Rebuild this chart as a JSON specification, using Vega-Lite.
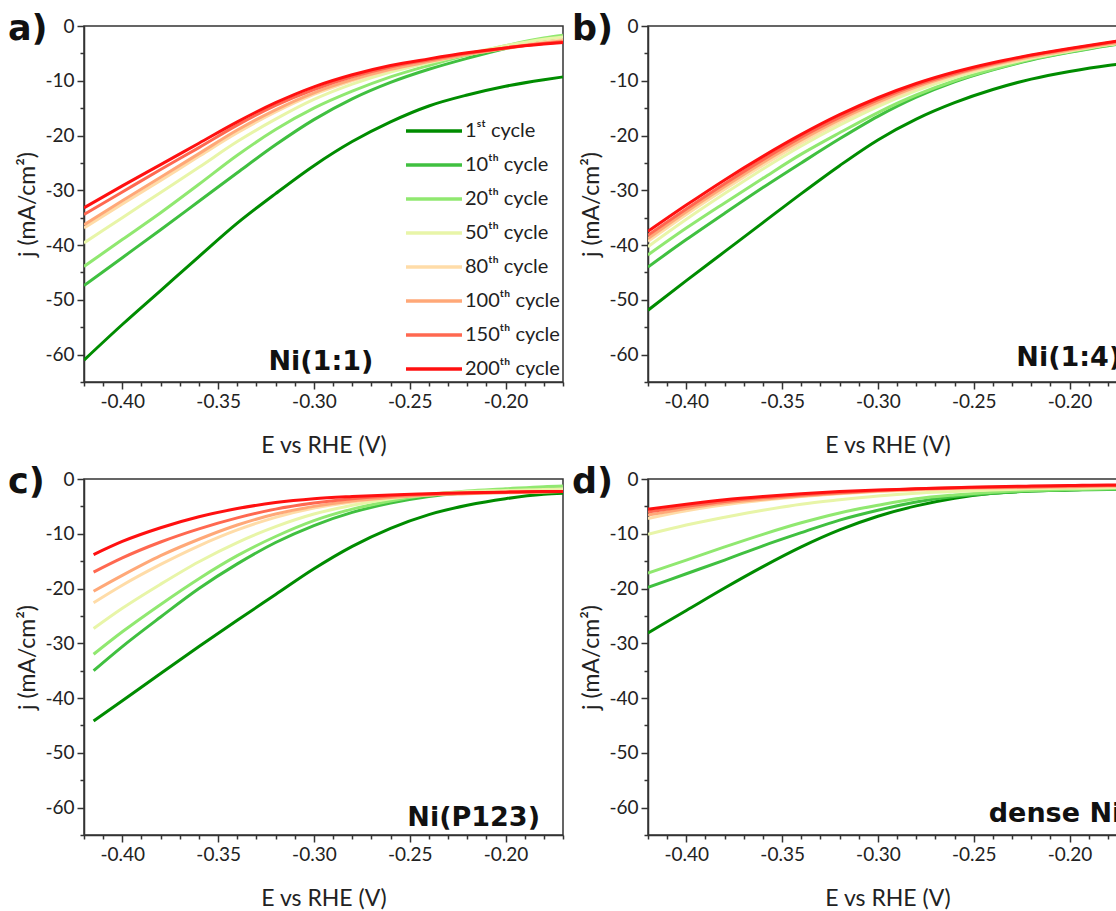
{
"$schema": "https://vega.github.io/schema/vega-lite/v6.json",
"background": "white",
"padding": {"left": 7, "top": 10, "right": 0, "bottom": 0},
"datasets": {"curves": [
{"p":"a","c":1,"E":-0.42,"j":-61.0},{"p":"a","c":1,"E":-0.4,"j":-54.5},{"p":"a","c":1,"E":-0.38,"j":-48.3},{"p":"a","c":1,"E":-0.36,"j":-42.1},{"p":"a","c":1,"E":-0.34,"j":-36.0},{"p":"a","c":1,"E":-0.32,"j":-30.6},{"p":"a","c":1,"E":-0.3,"j":-25.5},{"p":"a","c":1,"E":-0.28,"j":-21.1},{"p":"a","c":1,"E":-0.26,"j":-17.5},{"p":"a","c":1,"E":-0.24,"j":-14.6},{"p":"a","c":1,"E":-0.22,"j":-12.6},{"p":"a","c":1,"E":-0.2,"j":-11.0},{"p":"a","c":1,"E":-0.18,"j":-9.8},{"p":"a","c":1,"E":-0.17,"j":-9.3},
{"p":"a","c":10,"E":-0.42,"j":-47.4},{"p":"a","c":10,"E":-0.4,"j":-42.3},{"p":"a","c":10,"E":-0.38,"j":-37.2},{"p":"a","c":10,"E":-0.36,"j":-32.0},{"p":"a","c":10,"E":-0.34,"j":-26.8},{"p":"a","c":10,"E":-0.32,"j":-21.7},{"p":"a","c":10,"E":-0.3,"j":-17.1},{"p":"a","c":10,"E":-0.28,"j":-13.3},{"p":"a","c":10,"E":-0.26,"j":-10.3},{"p":"a","c":10,"E":-0.24,"j":-7.9},{"p":"a","c":10,"E":-0.22,"j":-5.9},{"p":"a","c":10,"E":-0.2,"j":-4.1},{"p":"a","c":10,"E":-0.18,"j":-2.6},{"p":"a","c":10,"E":-0.17,"j":-1.9},
{"p":"a","c":20,"E":-0.42,"j":-43.9},{"p":"a","c":20,"E":-0.4,"j":-39.0},{"p":"a","c":20,"E":-0.38,"j":-34.1},{"p":"a","c":20,"E":-0.36,"j":-28.9},{"p":"a","c":20,"E":-0.34,"j":-23.6},{"p":"a","c":20,"E":-0.32,"j":-18.9},{"p":"a","c":20,"E":-0.3,"j":-15.0},{"p":"a","c":20,"E":-0.28,"j":-11.9},{"p":"a","c":20,"E":-0.26,"j":-9.3},{"p":"a","c":20,"E":-0.24,"j":-7.2},{"p":"a","c":20,"E":-0.22,"j":-5.3},{"p":"a","c":20,"E":-0.2,"j":-3.6},{"p":"a","c":20,"E":-0.18,"j":-2.2},{"p":"a","c":20,"E":-0.17,"j":-1.7},
{"p":"a","c":50,"E":-0.42,"j":-39.6},{"p":"a","c":50,"E":-0.4,"j":-35.0},{"p":"a","c":50,"E":-0.38,"j":-30.4},{"p":"a","c":50,"E":-0.36,"j":-25.8},{"p":"a","c":50,"E":-0.34,"j":-21.1},{"p":"a","c":50,"E":-0.32,"j":-17.0},{"p":"a","c":50,"E":-0.3,"j":-13.4},{"p":"a","c":50,"E":-0.28,"j":-10.6},{"p":"a","c":50,"E":-0.26,"j":-8.4},{"p":"a","c":50,"E":-0.24,"j":-6.7},{"p":"a","c":50,"E":-0.22,"j":-5.1},{"p":"a","c":50,"E":-0.2,"j":-3.6},{"p":"a","c":50,"E":-0.18,"j":-2.4},{"p":"a","c":50,"E":-0.17,"j":-2.0},
{"p":"a","c":80,"E":-0.42,"j":-36.9},{"p":"a","c":80,"E":-0.4,"j":-32.5},{"p":"a","c":80,"E":-0.38,"j":-28.2},{"p":"a","c":80,"E":-0.36,"j":-23.8},{"p":"a","c":80,"E":-0.34,"j":-19.5},{"p":"a","c":80,"E":-0.32,"j":-15.7},{"p":"a","c":80,"E":-0.3,"j":-12.5},{"p":"a","c":80,"E":-0.28,"j":-10.0},{"p":"a","c":80,"E":-0.26,"j":-8.0},{"p":"a","c":80,"E":-0.24,"j":-6.5},{"p":"a","c":80,"E":-0.22,"j":-5.2},{"p":"a","c":80,"E":-0.2,"j":-4.0},{"p":"a","c":80,"E":-0.18,"j":-2.9},{"p":"a","c":80,"E":-0.17,"j":-2.5},
{"p":"a","c":100,"E":-0.42,"j":-36.3},{"p":"a","c":100,"E":-0.4,"j":-31.9},{"p":"a","c":100,"E":-0.38,"j":-27.6},{"p":"a","c":100,"E":-0.36,"j":-23.3},{"p":"a","c":100,"E":-0.34,"j":-19.0},{"p":"a","c":100,"E":-0.32,"j":-15.3},{"p":"a","c":100,"E":-0.3,"j":-12.2},{"p":"a","c":100,"E":-0.28,"j":-9.8},{"p":"a","c":100,"E":-0.26,"j":-7.9},{"p":"a","c":100,"E":-0.24,"j":-6.5},{"p":"a","c":100,"E":-0.22,"j":-5.2},{"p":"a","c":100,"E":-0.2,"j":-4.1},{"p":"a","c":100,"E":-0.18,"j":-3.1},{"p":"a","c":100,"E":-0.17,"j":-2.7},
{"p":"a","c":150,"E":-0.42,"j":-34.4},{"p":"a","c":150,"E":-0.4,"j":-30.3},{"p":"a","c":150,"E":-0.38,"j":-26.2},{"p":"a","c":150,"E":-0.36,"j":-22.2},{"p":"a","c":150,"E":-0.34,"j":-18.1},{"p":"a","c":150,"E":-0.32,"j":-14.5},{"p":"a","c":150,"E":-0.3,"j":-11.6},{"p":"a","c":150,"E":-0.28,"j":-9.3},{"p":"a","c":150,"E":-0.26,"j":-7.5},{"p":"a","c":150,"E":-0.24,"j":-6.2},{"p":"a","c":150,"E":-0.22,"j":-5.0},{"p":"a","c":150,"E":-0.2,"j":-4.0},{"p":"a","c":150,"E":-0.18,"j":-3.2},{"p":"a","c":150,"E":-0.17,"j":-2.9},
{"p":"a","c":200,"E":-0.42,"j":-33.2},{"p":"a","c":200,"E":-0.4,"j":-29.2},{"p":"a","c":200,"E":-0.38,"j":-25.3},{"p":"a","c":200,"E":-0.36,"j":-21.4},{"p":"a","c":200,"E":-0.34,"j":-17.5},{"p":"a","c":200,"E":-0.32,"j":-14.0},{"p":"a","c":200,"E":-0.3,"j":-11.1},{"p":"a","c":200,"E":-0.28,"j":-8.9},{"p":"a","c":200,"E":-0.26,"j":-7.2},{"p":"a","c":200,"E":-0.24,"j":-6.0},{"p":"a","c":200,"E":-0.22,"j":-4.9},{"p":"a","c":200,"E":-0.2,"j":-4.0},{"p":"a","c":200,"E":-0.18,"j":-3.3},{"p":"a","c":200,"E":-0.17,"j":-3.0},
{"p":"b","c":1,"E":-0.42,"j":-51.9},{"p":"b","c":1,"E":-0.4,"j":-46.5},{"p":"b","c":1,"E":-0.38,"j":-41.2},{"p":"b","c":1,"E":-0.36,"j":-35.9},{"p":"b","c":1,"E":-0.34,"j":-30.6},{"p":"b","c":1,"E":-0.32,"j":-25.5},{"p":"b","c":1,"E":-0.3,"j":-20.8},{"p":"b","c":1,"E":-0.28,"j":-17.0},{"p":"b","c":1,"E":-0.26,"j":-14.0},{"p":"b","c":1,"E":-0.24,"j":-11.6},{"p":"b","c":1,"E":-0.22,"j":-9.7},{"p":"b","c":1,"E":-0.2,"j":-8.3},{"p":"b","c":1,"E":-0.18,"j":-7.2},{"p":"b","c":1,"E":-0.17,"j":-6.8},
{"p":"b","c":10,"E":-0.42,"j":-44.0},{"p":"b","c":10,"E":-0.4,"j":-39.0},{"p":"b","c":10,"E":-0.38,"j":-34.2},{"p":"b","c":10,"E":-0.36,"j":-29.5},{"p":"b","c":10,"E":-0.34,"j":-25.0},{"p":"b","c":10,"E":-0.32,"j":-20.6},{"p":"b","c":10,"E":-0.3,"j":-16.5},{"p":"b","c":10,"E":-0.28,"j":-13.0},{"p":"b","c":10,"E":-0.26,"j":-10.2},{"p":"b","c":10,"E":-0.24,"j":-8.0},{"p":"b","c":10,"E":-0.22,"j":-6.2},{"p":"b","c":10,"E":-0.2,"j":-4.8},{"p":"b","c":10,"E":-0.18,"j":-3.6},{"p":"b","c":10,"E":-0.17,"j":-3.1},
{"p":"b","c":20,"E":-0.42,"j":-41.8},{"p":"b","c":20,"E":-0.4,"j":-36.9},{"p":"b","c":20,"E":-0.38,"j":-32.3},{"p":"b","c":20,"E":-0.36,"j":-27.8},{"p":"b","c":20,"E":-0.34,"j":-23.4},{"p":"b","c":20,"E":-0.32,"j":-19.5},{"p":"b","c":20,"E":-0.3,"j":-15.8},{"p":"b","c":20,"E":-0.28,"j":-12.6},{"p":"b","c":20,"E":-0.26,"j":-10.0},{"p":"b","c":20,"E":-0.24,"j":-7.9},{"p":"b","c":20,"E":-0.22,"j":-6.1},{"p":"b","c":20,"E":-0.2,"j":-4.7},{"p":"b","c":20,"E":-0.18,"j":-3.5},{"p":"b","c":20,"E":-0.17,"j":-3.0},
{"p":"b","c":50,"E":-0.42,"j":-40.3},{"p":"b","c":50,"E":-0.4,"j":-35.3},{"p":"b","c":50,"E":-0.38,"j":-30.6},{"p":"b","c":50,"E":-0.36,"j":-26.1},{"p":"b","c":50,"E":-0.34,"j":-21.9},{"p":"b","c":50,"E":-0.32,"j":-18.1},{"p":"b","c":50,"E":-0.3,"j":-14.7},{"p":"b","c":50,"E":-0.28,"j":-11.8},{"p":"b","c":50,"E":-0.26,"j":-9.4},{"p":"b","c":50,"E":-0.24,"j":-7.5},{"p":"b","c":50,"E":-0.22,"j":-5.9},{"p":"b","c":50,"E":-0.2,"j":-4.6},{"p":"b","c":50,"E":-0.18,"j":-3.4},{"p":"b","c":50,"E":-0.17,"j":-3.0},
{"p":"b","c":80,"E":-0.42,"j":-39.3},{"p":"b","c":80,"E":-0.4,"j":-34.4},{"p":"b","c":80,"E":-0.38,"j":-29.8},{"p":"b","c":80,"E":-0.36,"j":-25.4},{"p":"b","c":80,"E":-0.34,"j":-21.3},{"p":"b","c":80,"E":-0.32,"j":-17.5},{"p":"b","c":80,"E":-0.3,"j":-14.2},{"p":"b","c":80,"E":-0.28,"j":-11.4},{"p":"b","c":80,"E":-0.26,"j":-9.1},{"p":"b","c":80,"E":-0.24,"j":-7.3},{"p":"b","c":80,"E":-0.22,"j":-5.8},{"p":"b","c":80,"E":-0.2,"j":-4.5},{"p":"b","c":80,"E":-0.18,"j":-3.4},{"p":"b","c":80,"E":-0.17,"j":-2.9},
{"p":"b","c":100,"E":-0.42,"j":-38.8},{"p":"b","c":100,"E":-0.4,"j":-33.9},{"p":"b","c":100,"E":-0.38,"j":-29.3},{"p":"b","c":100,"E":-0.36,"j":-24.9},{"p":"b","c":100,"E":-0.34,"j":-20.8},{"p":"b","c":100,"E":-0.32,"j":-17.1},{"p":"b","c":100,"E":-0.3,"j":-13.9},{"p":"b","c":100,"E":-0.28,"j":-11.1},{"p":"b","c":100,"E":-0.26,"j":-8.9},{"p":"b","c":100,"E":-0.24,"j":-7.1},{"p":"b","c":100,"E":-0.22,"j":-5.6},{"p":"b","c":100,"E":-0.2,"j":-4.4},{"p":"b","c":100,"E":-0.18,"j":-3.3},{"p":"b","c":100,"E":-0.17,"j":-2.8},
{"p":"b","c":150,"E":-0.42,"j":-38.2},{"p":"b","c":150,"E":-0.4,"j":-33.4},{"p":"b","c":150,"E":-0.38,"j":-28.8},{"p":"b","c":150,"E":-0.36,"j":-24.4},{"p":"b","c":150,"E":-0.34,"j":-20.3},{"p":"b","c":150,"E":-0.32,"j":-16.7},{"p":"b","c":150,"E":-0.3,"j":-13.5},{"p":"b","c":150,"E":-0.28,"j":-10.8},{"p":"b","c":150,"E":-0.26,"j":-8.7},{"p":"b","c":150,"E":-0.24,"j":-6.9},{"p":"b","c":150,"E":-0.22,"j":-5.4},{"p":"b","c":150,"E":-0.2,"j":-4.2},{"p":"b","c":150,"E":-0.18,"j":-3.1},{"p":"b","c":150,"E":-0.17,"j":-2.6},
{"p":"b","c":200,"E":-0.42,"j":-37.5},{"p":"b","c":200,"E":-0.4,"j":-32.7},{"p":"b","c":200,"E":-0.38,"j":-28.1},{"p":"b","c":200,"E":-0.36,"j":-23.8},{"p":"b","c":200,"E":-0.34,"j":-19.8},{"p":"b","c":200,"E":-0.32,"j":-16.2},{"p":"b","c":200,"E":-0.3,"j":-13.1},{"p":"b","c":200,"E":-0.28,"j":-10.5},{"p":"b","c":200,"E":-0.26,"j":-8.4},{"p":"b","c":200,"E":-0.24,"j":-6.7},{"p":"b","c":200,"E":-0.22,"j":-5.3},{"p":"b","c":200,"E":-0.2,"j":-4.1},{"p":"b","c":200,"E":-0.18,"j":-3.0},{"p":"b","c":200,"E":-0.17,"j":-2.5},
{"p":"c","c":1,"E":-0.415,"j":-44.2},{"p":"c","c":1,"E":-0.4,"j":-40.5},{"p":"c","c":1,"E":-0.38,"j":-35.5},{"p":"c","c":1,"E":-0.36,"j":-30.6},{"p":"c","c":1,"E":-0.34,"j":-25.8},{"p":"c","c":1,"E":-0.32,"j":-21.1},{"p":"c","c":1,"E":-0.3,"j":-16.4},{"p":"c","c":1,"E":-0.28,"j":-12.3},{"p":"c","c":1,"E":-0.26,"j":-9.0},{"p":"c","c":1,"E":-0.24,"j":-6.5},{"p":"c","c":1,"E":-0.22,"j":-4.8},{"p":"c","c":1,"E":-0.2,"j":-3.6},{"p":"c","c":1,"E":-0.18,"j":-2.8},{"p":"c","c":1,"E":-0.17,"j":-2.6},
{"p":"c","c":10,"E":-0.415,"j":-35.0},{"p":"c","c":10,"E":-0.4,"j":-30.6},{"p":"c","c":10,"E":-0.38,"j":-25.2},{"p":"c","c":10,"E":-0.36,"j":-20.0},{"p":"c","c":10,"E":-0.34,"j":-15.5},{"p":"c","c":10,"E":-0.32,"j":-11.6},{"p":"c","c":10,"E":-0.3,"j":-8.5},{"p":"c","c":10,"E":-0.28,"j":-6.1},{"p":"c","c":10,"E":-0.26,"j":-4.4},{"p":"c","c":10,"E":-0.24,"j":-3.2},{"p":"c","c":10,"E":-0.22,"j":-2.5},{"p":"c","c":10,"E":-0.2,"j":-2.0},{"p":"c","c":10,"E":-0.18,"j":-1.7},{"p":"c","c":10,"E":-0.17,"j":-1.6},
{"p":"c","c":20,"E":-0.415,"j":-32.0},{"p":"c","c":20,"E":-0.4,"j":-27.9},{"p":"c","c":20,"E":-0.38,"j":-22.9},{"p":"c","c":20,"E":-0.36,"j":-18.2},{"p":"c","c":20,"E":-0.34,"j":-14.0},{"p":"c","c":20,"E":-0.32,"j":-10.5},{"p":"c","c":20,"E":-0.3,"j":-7.6},{"p":"c","c":20,"E":-0.28,"j":-5.5},{"p":"c","c":20,"E":-0.26,"j":-4.0},{"p":"c","c":20,"E":-0.24,"j":-2.9},{"p":"c","c":20,"E":-0.22,"j":-2.2},{"p":"c","c":20,"E":-0.2,"j":-1.8},{"p":"c","c":20,"E":-0.18,"j":-1.4},{"p":"c","c":20,"E":-0.17,"j":-1.3},
{"p":"c","c":50,"E":-0.415,"j":-27.3},{"p":"c","c":50,"E":-0.4,"j":-23.6},{"p":"c","c":50,"E":-0.38,"j":-19.2},{"p":"c","c":50,"E":-0.36,"j":-15.1},{"p":"c","c":50,"E":-0.34,"j":-11.6},{"p":"c","c":50,"E":-0.32,"j":-8.7},{"p":"c","c":50,"E":-0.3,"j":-6.4},{"p":"c","c":50,"E":-0.28,"j":-4.8},{"p":"c","c":50,"E":-0.26,"j":-3.6},{"p":"c","c":50,"E":-0.24,"j":-2.8},{"p":"c","c":50,"E":-0.22,"j":-2.3},{"p":"c","c":50,"E":-0.2,"j":-2.1},{"p":"c","c":50,"E":-0.18,"j":-1.9},{"p":"c","c":50,"E":-0.17,"j":-1.8},
{"p":"c","c":80,"E":-0.415,"j":-22.6},{"p":"c","c":80,"E":-0.4,"j":-19.4},{"p":"c","c":80,"E":-0.38,"j":-15.6},{"p":"c","c":80,"E":-0.36,"j":-12.2},{"p":"c","c":80,"E":-0.34,"j":-9.3},{"p":"c","c":80,"E":-0.32,"j":-7.0},{"p":"c","c":80,"E":-0.3,"j":-5.3},{"p":"c","c":80,"E":-0.28,"j":-4.2},{"p":"c","c":80,"E":-0.26,"j":-3.4},{"p":"c","c":80,"E":-0.24,"j":-2.9},{"p":"c","c":80,"E":-0.22,"j":-2.6},{"p":"c","c":80,"E":-0.2,"j":-2.4},{"p":"c","c":80,"E":-0.18,"j":-2.3},{"p":"c","c":80,"E":-0.17,"j":-2.2},
{"p":"c","c":100,"E":-0.415,"j":-20.5},{"p":"c","c":100,"E":-0.4,"j":-17.6},{"p":"c","c":100,"E":-0.38,"j":-14.0},{"p":"c","c":100,"E":-0.36,"j":-11.0},{"p":"c","c":100,"E":-0.34,"j":-8.4},{"p":"c","c":100,"E":-0.32,"j":-6.4},{"p":"c","c":100,"E":-0.3,"j":-5.0},{"p":"c","c":100,"E":-0.28,"j":-4.0},{"p":"c","c":100,"E":-0.26,"j":-3.4},{"p":"c","c":100,"E":-0.24,"j":-2.9},{"p":"c","c":100,"E":-0.22,"j":-2.7},{"p":"c","c":100,"E":-0.2,"j":-2.5},{"p":"c","c":100,"E":-0.18,"j":-2.4},{"p":"c","c":100,"E":-0.17,"j":-2.3},
{"p":"c","c":150,"E":-0.415,"j":-17.0},{"p":"c","c":150,"E":-0.4,"j":-14.4},{"p":"c","c":150,"E":-0.38,"j":-11.5},{"p":"c","c":150,"E":-0.36,"j":-9.1},{"p":"c","c":150,"E":-0.34,"j":-7.1},{"p":"c","c":150,"E":-0.32,"j":-5.5},{"p":"c","c":150,"E":-0.3,"j":-4.4},{"p":"c","c":150,"E":-0.28,"j":-3.6},{"p":"c","c":150,"E":-0.26,"j":-3.1},{"p":"c","c":150,"E":-0.24,"j":-2.8},{"p":"c","c":150,"E":-0.22,"j":-2.6},{"p":"c","c":150,"E":-0.2,"j":-2.4},{"p":"c","c":150,"E":-0.18,"j":-2.3},{"p":"c","c":150,"E":-0.17,"j":-2.3},
{"p":"c","c":200,"E":-0.415,"j":-13.8},{"p":"c","c":200,"E":-0.4,"j":-11.4},{"p":"c","c":200,"E":-0.38,"j":-8.9},{"p":"c","c":200,"E":-0.36,"j":-6.9},{"p":"c","c":200,"E":-0.34,"j":-5.4},{"p":"c","c":200,"E":-0.32,"j":-4.3},{"p":"c","c":200,"E":-0.3,"j":-3.6},{"p":"c","c":200,"E":-0.28,"j":-3.2},{"p":"c","c":200,"E":-0.26,"j":-2.9},{"p":"c","c":200,"E":-0.24,"j":-2.7},{"p":"c","c":200,"E":-0.22,"j":-2.5},{"p":"c","c":200,"E":-0.2,"j":-2.4},{"p":"c","c":200,"E":-0.18,"j":-2.3},{"p":"c","c":200,"E":-0.17,"j":-2.3},
{"p":"d","c":1,"E":-0.42,"j":-28.1},{"p":"d","c":1,"E":-0.4,"j":-24.0},{"p":"d","c":1,"E":-0.38,"j":-19.9},{"p":"d","c":1,"E":-0.36,"j":-16.0},{"p":"d","c":1,"E":-0.34,"j":-12.4},{"p":"d","c":1,"E":-0.32,"j":-9.3},{"p":"d","c":1,"E":-0.3,"j":-6.8},{"p":"d","c":1,"E":-0.28,"j":-4.9},{"p":"d","c":1,"E":-0.26,"j":-3.5},{"p":"d","c":1,"E":-0.24,"j":-2.6},{"p":"d","c":1,"E":-0.22,"j":-2.2},{"p":"d","c":1,"E":-0.2,"j":-2.0},{"p":"d","c":1,"E":-0.18,"j":-1.8},{"p":"d","c":1,"E":-0.17,"j":-1.8},
{"p":"d","c":10,"E":-0.42,"j":-19.8},{"p":"d","c":10,"E":-0.4,"j":-17.3},{"p":"d","c":10,"E":-0.38,"j":-14.8},{"p":"d","c":10,"E":-0.36,"j":-12.2},{"p":"d","c":10,"E":-0.34,"j":-9.8},{"p":"d","c":10,"E":-0.32,"j":-7.5},{"p":"d","c":10,"E":-0.3,"j":-5.7},{"p":"d","c":10,"E":-0.28,"j":-4.2},{"p":"d","c":10,"E":-0.26,"j":-3.2},{"p":"d","c":10,"E":-0.24,"j":-2.6},{"p":"d","c":10,"E":-0.22,"j":-2.2},{"p":"d","c":10,"E":-0.2,"j":-2.0},{"p":"d","c":10,"E":-0.18,"j":-1.9},{"p":"d","c":10,"E":-0.17,"j":-1.9},
{"p":"d","c":20,"E":-0.42,"j":-17.2},{"p":"d","c":20,"E":-0.4,"j":-14.8},{"p":"d","c":20,"E":-0.38,"j":-12.4},{"p":"d","c":20,"E":-0.36,"j":-10.1},{"p":"d","c":20,"E":-0.34,"j":-8.0},{"p":"d","c":20,"E":-0.32,"j":-6.2},{"p":"d","c":20,"E":-0.3,"j":-4.8},{"p":"d","c":20,"E":-0.28,"j":-3.6},{"p":"d","c":20,"E":-0.26,"j":-2.9},{"p":"d","c":20,"E":-0.24,"j":-2.4},{"p":"d","c":20,"E":-0.22,"j":-2.1},{"p":"d","c":20,"E":-0.2,"j":-1.9},{"p":"d","c":20,"E":-0.18,"j":-1.8},{"p":"d","c":20,"E":-0.17,"j":-1.7},
{"p":"d","c":50,"E":-0.42,"j":-10.1},{"p":"d","c":50,"E":-0.4,"j":-8.4},{"p":"d","c":50,"E":-0.38,"j":-7.0},{"p":"d","c":50,"E":-0.36,"j":-5.7},{"p":"d","c":50,"E":-0.34,"j":-4.6},{"p":"d","c":50,"E":-0.32,"j":-3.8},{"p":"d","c":50,"E":-0.3,"j":-3.1},{"p":"d","c":50,"E":-0.28,"j":-2.6},{"p":"d","c":50,"E":-0.26,"j":-2.3},{"p":"d","c":50,"E":-0.24,"j":-2.0},{"p":"d","c":50,"E":-0.22,"j":-1.8},{"p":"d","c":50,"E":-0.2,"j":-1.7},{"p":"d","c":50,"E":-0.18,"j":-1.6},{"p":"d","c":50,"E":-0.17,"j":-1.5},
{"p":"d","c":80,"E":-0.42,"j":-7.2},{"p":"d","c":80,"E":-0.4,"j":-5.8},{"p":"d","c":80,"E":-0.38,"j":-4.7},{"p":"d","c":80,"E":-0.36,"j":-3.9},{"p":"d","c":80,"E":-0.34,"j":-3.2},{"p":"d","c":80,"E":-0.32,"j":-2.7},{"p":"d","c":80,"E":-0.3,"j":-2.3},{"p":"d","c":80,"E":-0.28,"j":-2.0},{"p":"d","c":80,"E":-0.26,"j":-1.8},{"p":"d","c":80,"E":-0.24,"j":-1.7},{"p":"d","c":80,"E":-0.22,"j":-1.6},{"p":"d","c":80,"E":-0.2,"j":-1.5},{"p":"d","c":80,"E":-0.18,"j":-1.4},{"p":"d","c":80,"E":-0.17,"j":-1.4},
{"p":"d","c":100,"E":-0.42,"j":-6.6},{"p":"d","c":100,"E":-0.4,"j":-5.4},{"p":"d","c":100,"E":-0.38,"j":-4.4},{"p":"d","c":100,"E":-0.36,"j":-3.7},{"p":"d","c":100,"E":-0.34,"j":-3.1},{"p":"d","c":100,"E":-0.32,"j":-2.6},{"p":"d","c":100,"E":-0.3,"j":-2.2},{"p":"d","c":100,"E":-0.28,"j":-1.9},{"p":"d","c":100,"E":-0.26,"j":-1.7},{"p":"d","c":100,"E":-0.24,"j":-1.6},{"p":"d","c":100,"E":-0.22,"j":-1.5},{"p":"d","c":100,"E":-0.2,"j":-1.4},{"p":"d","c":100,"E":-0.18,"j":-1.3},{"p":"d","c":100,"E":-0.17,"j":-1.3},
{"p":"d","c":150,"E":-0.42,"j":-6.0},{"p":"d","c":150,"E":-0.4,"j":-5.0},{"p":"d","c":150,"E":-0.38,"j":-4.1},{"p":"d","c":150,"E":-0.36,"j":-3.4},{"p":"d","c":150,"E":-0.34,"j":-2.9},{"p":"d","c":150,"E":-0.32,"j":-2.5},{"p":"d","c":150,"E":-0.3,"j":-2.1},{"p":"d","c":150,"E":-0.28,"j":-1.8},{"p":"d","c":150,"E":-0.26,"j":-1.6},{"p":"d","c":150,"E":-0.24,"j":-1.5},{"p":"d","c":150,"E":-0.22,"j":-1.4},{"p":"d","c":150,"E":-0.2,"j":-1.3},{"p":"d","c":150,"E":-0.18,"j":-1.2},{"p":"d","c":150,"E":-0.17,"j":-1.2},
{"p":"d","c":200,"E":-0.42,"j":-5.5},{"p":"d","c":200,"E":-0.4,"j":-4.6},{"p":"d","c":200,"E":-0.38,"j":-3.8},{"p":"d","c":200,"E":-0.36,"j":-3.2},{"p":"d","c":200,"E":-0.34,"j":-2.7},{"p":"d","c":200,"E":-0.32,"j":-2.3},{"p":"d","c":200,"E":-0.3,"j":-2.0},{"p":"d","c":200,"E":-0.28,"j":-1.8},{"p":"d","c":200,"E":-0.26,"j":-1.6},{"p":"d","c":200,"E":-0.24,"j":-1.4},{"p":"d","c":200,"E":-0.22,"j":-1.3},{"p":"d","c":200,"E":-0.2,"j":-1.2},{"p":"d","c":200,"E":-0.18,"j":-1.1},{"p":"d","c":200,"E":-0.17,"j":-1.1}
]},
"columns": 2,
"spacing": {"row": 5, "column": 6},
"resolve": {"scale": {"color": "independent"}, "legend": {"color": "independent"}},
"concat": [
{
 "width": 479, "height": 356,
 "title": {"text": "a)"},
 "layer": [
  {"data": {"name": "curves"}, "transform": [{"filter": "datum.p == 'a'"}],
   "mark": {"type": "line", "strokeWidth": 3, "interpolate": "monotone", "clip": true},
   "encoding": {
    "x": {"field": "E", "type": "quantitative", "scale": {"domain": [-0.42, -0.17], "nice": false, "zero": false},
      "axis": {"title": "E vs RHE (V)", "tickCount": 100, "values": [-0.42,-0.41,-0.4,-0.39,-0.38,-0.37,-0.36,-0.35,-0.34,-0.33,-0.32,-0.31,-0.3,-0.29,-0.28,-0.27,-0.26,-0.25,-0.24,-0.23,-0.22,-0.21,-0.2,-0.19,-0.18,-0.17],
        "labelExpr": "round(datum.value*100) % 5 == 0 ? '-' + format(abs(datum.value), '.2f') : ''",
        "tickSize": {"condition": {"test": "round(datum.value*100) % 5 == 0", "value": 7}, "value": 4}}},
    "y": {"field": "j", "type": "quantitative", "scale": {"domain": [-65, 0], "nice": false, "zero": false},
      "axis": {"title": "j (mA/cm²)", "tickCount": 100, "values": [-65,-60,-55,-50,-45,-40,-35,-30,-25,-20,-15,-10,-5,0],
        "labelExpr": "datum.value % 10 == 0 ? (datum.value < 0 ? '-' : '') + abs(datum.value) : ''",
        "tickSize": {"condition": {"test": "datum.value % 10 == 0", "value": 7}, "value": 4}}},
    "color": {"field": "c", "type": "nominal",
      "scale": {"domain": [1,10,20,50,80,100,150,200], "range": ["#008c00","#40c040","#90e870","#e8f5a8","#ffdca8","#ffa878","#ff6850","#ff1010"]},
      "legend": {"orient": "bottom-right", "offset": 3, "title": null, "padding": 0, "symbolType": "M-1.4,0H1.4", "symbolSize": 1600, "symbolStrokeWidth": 3.5, "labelFont": "Lato", "labelFontSize": 20, "labelColor": "#222", "labelOffset": 9, "rowPadding": 2,
        "labelExpr": "datum.label == '1' ? '1\u02e2\u1d57 cycle' : datum.label + '\u1d57\u02b0 cycle'"}}
   }},
  {"data": {"values": [{"t": "Ni(1:1)"}]},
   "mark": {"type": "text", "font": "DejaVu Sans", "fontWeight": "bold", "fontSize": 27, "align": "right", "baseline": "alphabetic", "color": "#111"},
   "encoding": {"x": {"datum": -0.269, "type": "quantitative"}, "y": {"datum": -62.9, "type": "quantitative"}, "text": {"field": "t"}}}
 ]
},
{
 "width": 479, "height": 356,
 "title": {"text": "b)"},
 "layer": [
  {"data": {"name": "curves"}, "transform": [{"filter": "datum.p == 'b'"}],
   "mark": {"type": "line", "strokeWidth": 3, "interpolate": "monotone", "clip": true},
   "encoding": {
    "x": {"field": "E", "type": "quantitative", "scale": {"domain": [-0.42, -0.17], "nice": false, "zero": false},
      "axis": {"title": "E vs RHE (V)", "tickCount": 100, "values": [-0.42,-0.41,-0.4,-0.39,-0.38,-0.37,-0.36,-0.35,-0.34,-0.33,-0.32,-0.31,-0.3,-0.29,-0.28,-0.27,-0.26,-0.25,-0.24,-0.23,-0.22,-0.21,-0.2,-0.19,-0.18,-0.17],
        "labelExpr": "round(datum.value*100) % 5 == 0 ? '-' + format(abs(datum.value), '.2f') : ''",
        "tickSize": {"condition": {"test": "round(datum.value*100) % 5 == 0", "value": 7}, "value": 4}}},
    "y": {"field": "j", "type": "quantitative", "scale": {"domain": [-65, 0], "nice": false, "zero": false},
      "axis": {"title": "j (mA/cm²)", "tickCount": 100, "values": [-65,-60,-55,-50,-45,-40,-35,-30,-25,-20,-15,-10,-5,0],
        "labelExpr": "datum.value % 10 == 0 ? (datum.value < 0 ? '-' : '') + abs(datum.value) : ''",
        "tickSize": {"condition": {"test": "datum.value % 10 == 0", "value": 7}, "value": 4}}},
    "color": {"field": "c", "type": "nominal",
      "scale": {"domain": [1,10,20,50,80,100,150,200], "range": ["#008c00","#40c040","#90e870","#e8f5a8","#ffdca8","#ffa878","#ff6850","#ff1010"]},
      "legend": null}
   }},
  {"data": {"values": [{"t": "Ni(1:4)"}]},
   "mark": {"type": "text", "font": "DejaVu Sans", "fontWeight": "bold", "fontSize": 27, "align": "right", "baseline": "alphabetic", "color": "#111"},
   "encoding": {"x": {"datum": -0.173, "type": "quantitative"}, "y": {"datum": -62.0, "type": "quantitative"}, "text": {"field": "t"}}}
 ]
},
{
 "width": 479, "height": 356,
 "title": {"text": "c)"},
 "layer": [
  {"data": {"name": "curves"}, "transform": [{"filter": "datum.p == 'c'"}],
   "mark": {"type": "line", "strokeWidth": 3, "interpolate": "monotone", "clip": true},
   "encoding": {
    "x": {"field": "E", "type": "quantitative", "scale": {"domain": [-0.42, -0.17], "nice": false, "zero": false},
      "axis": {"title": "E vs RHE (V)", "tickCount": 100, "values": [-0.42,-0.41,-0.4,-0.39,-0.38,-0.37,-0.36,-0.35,-0.34,-0.33,-0.32,-0.31,-0.3,-0.29,-0.28,-0.27,-0.26,-0.25,-0.24,-0.23,-0.22,-0.21,-0.2,-0.19,-0.18,-0.17],
        "labelExpr": "round(datum.value*100) % 5 == 0 ? '-' + format(abs(datum.value), '.2f') : ''",
        "tickSize": {"condition": {"test": "round(datum.value*100) % 5 == 0", "value": 7}, "value": 4}}},
    "y": {"field": "j", "type": "quantitative", "scale": {"domain": [-65, 0], "nice": false, "zero": false},
      "axis": {"title": "j (mA/cm²)", "tickCount": 100, "values": [-65,-60,-55,-50,-45,-40,-35,-30,-25,-20,-15,-10,-5,0],
        "labelExpr": "datum.value % 10 == 0 ? (datum.value < 0 ? '-' : '') + abs(datum.value) : ''",
        "tickSize": {"condition": {"test": "datum.value % 10 == 0", "value": 7}, "value": 4}}},
    "color": {"field": "c", "type": "nominal",
      "scale": {"domain": [1,10,20,50,80,100,150,200], "range": ["#008c00","#40c040","#90e870","#e8f5a8","#ffdca8","#ffa878","#ff6850","#ff1010"]},
      "legend": null}
   }},
  {"data": {"values": [{"t": "Ni(P123)"}]},
   "mark": {"type": "text", "font": "DejaVu Sans", "fontWeight": "bold", "fontSize": 27, "align": "right", "baseline": "alphabetic", "color": "#111"},
   "encoding": {"x": {"datum": -0.182, "type": "quantitative"}, "y": {"datum": -63.3, "type": "quantitative"}, "text": {"field": "t"}}}
 ]
},
{
 "width": 479, "height": 356,
 "title": {"text": "d)"},
 "layer": [
  {"data": {"name": "curves"}, "transform": [{"filter": "datum.p == 'd'"}],
   "mark": {"type": "line", "strokeWidth": 3, "interpolate": "monotone", "clip": true},
   "encoding": {
    "x": {"field": "E", "type": "quantitative", "scale": {"domain": [-0.42, -0.17], "nice": false, "zero": false},
      "axis": {"title": "E vs RHE (V)", "tickCount": 100, "values": [-0.42,-0.41,-0.4,-0.39,-0.38,-0.37,-0.36,-0.35,-0.34,-0.33,-0.32,-0.31,-0.3,-0.29,-0.28,-0.27,-0.26,-0.25,-0.24,-0.23,-0.22,-0.21,-0.2,-0.19,-0.18,-0.17],
        "labelExpr": "round(datum.value*100) % 5 == 0 ? '-' + format(abs(datum.value), '.2f') : ''",
        "tickSize": {"condition": {"test": "round(datum.value*100) % 5 == 0", "value": 7}, "value": 4}}},
    "y": {"field": "j", "type": "quantitative", "scale": {"domain": [-65, 0], "nice": false, "zero": false},
      "axis": {"title": "j (mA/cm²)", "tickCount": 100, "values": [-65,-60,-55,-50,-45,-40,-35,-30,-25,-20,-15,-10,-5,0],
        "labelExpr": "datum.value % 10 == 0 ? (datum.value < 0 ? '-' : '') + abs(datum.value) : ''",
        "tickSize": {"condition": {"test": "datum.value % 10 == 0", "value": 7}, "value": 4}}},
    "color": {"field": "c", "type": "nominal",
      "scale": {"domain": [1,10,20,50,80,100,150,200], "range": ["#008c00","#40c040","#90e870","#e8f5a8","#ffdca8","#ffa878","#ff6850","#ff1010"]},
      "legend": null}
   }},
  {"data": {"values": [{"t": "dense Ni"}]},
   "mark": {"type": "text", "font": "DejaVu Sans", "fontWeight": "bold", "fontSize": 27, "align": "right", "baseline": "alphabetic", "color": "#111"},
   "encoding": {"x": {"datum": -0.173, "type": "quantitative"}, "y": {"datum": -62.7, "type": "quantitative"}, "text": {"field": "t"}}}
 ]
}
],
"config": {
 "view": {"stroke": "#333", "strokeWidth": 1.5},
 "axis": {"domainColor": "#333", "domainWidth": 1.5, "tickColor": "#333", "tickWidth": 1.5, "labelFont": "Lato", "labelFontSize": 19, "labelColor": "#222", "titleFont": "Lato", "titleFontSize": 23, "titleFontWeight": "normal", "titleColor": "#222", "grid": false, "labelFlush": false, "labelOverlap": false},
 "axisX": {"labelPadding": 3, "titlePadding": 23},
 "axisY": {"labelPadding": 3, "titlePadding": 5},
 "title": {"anchor": "start", "frame": "bounds", "font": "DejaVu Sans", "fontSize": 35, "fontWeight": "bold", "color": "#111", "offset": -29.5, "dx": -9, "baseline": "alphabetic"}
}
}
